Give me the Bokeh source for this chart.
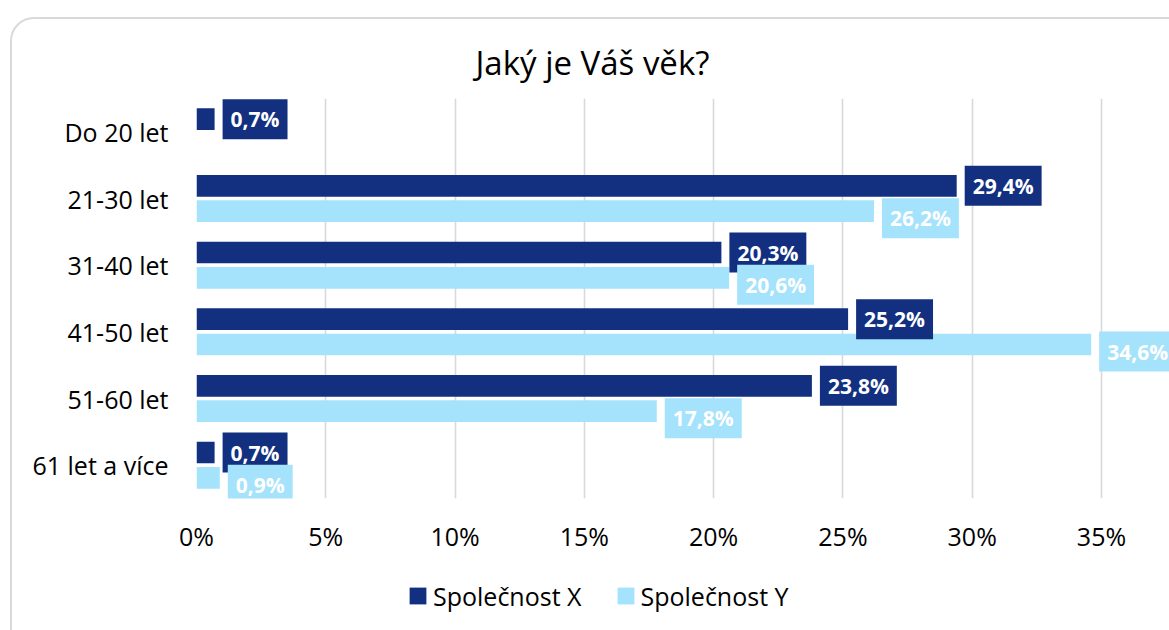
from bokeh.plotting import figure
from bokeh.layouts import column
from bokeh.models import (ColumnDataSource, FixedTicker, PrintfTickFormatter, Legend,
                          LegendItem, Range1d, InlineStyleSheet)
from bokeh.transform import dodge
from bokeh.core.properties import value
from bokeh.embed import file_html
from bokeh.resources import INLINE

# ---- data ----
categories = ["Do 20 let", "21-30 let", "31-40 let", "41-50 let", "51-60 let", "61 let a více"]
series_names = ["Společnost X", "Společnost Y"]
values_x = [0.7, 29.4, 20.3, 25.2, 23.8, 0.7]
values_y = [None, 26.2, 20.6, 34.6, 17.8, 0.9]
x_ticks = [0, 5, 10, 15, 20, 25, 30, 35]
title_text = "Jaký je Váš věk?"

DARK = "#12307F"
LIGHT = "#A5E2FC"
GRID = "#D9D9D9"
FONT = "Open Sans"

W = 1169
H1, H2 = 565, 65
ML, MT = 196, 98          # frame left / top
X35 = 1101                # pixel where 35 % lies
FB = 498                  # frame bottom
MB = H1 - FB

n = len(categories)
ypos = [n - 1 - i for i in range(n)]


def fmt(v):
    return ("%.1f" % v).replace(".", ",") + "%"


x_end = 35.0 * (W - ML) / (X35 - ML)
p = figure(width=W, height=H1, output_backend="svg", toolbar_location=None,
           x_range=Range1d(0, x_end), y_range=Range1d(-0.5, n - 0.5),
           min_border_left=ML, min_border_right=0, min_border_top=MT, min_border_bottom=MB)
p.outline_line_color = None
p.background_fill_alpha = 0
p.border_fill_alpha = 0

# title
p.title.text = title_text
p.title.align = "left"
p.title.offset = 279
p.title.standoff = 28
p.title.text_font = FONT
p.title.text_font_size = "33px"
p.title.text_font_style = "normal"
p.title.text_color = "#000000"

# axes
p.xaxis.ticker = FixedTicker(ticks=x_ticks)
p.xaxis.formatter = PrintfTickFormatter(format="%d%%")
p.yaxis.ticker = FixedTicker(ticks=ypos)
p.yaxis.major_label_overrides = {y: c for y, c in zip(ypos, categories)}
for ax in (p.xaxis, p.yaxis):
    ax.axis_line_color = None
    ax.major_tick_line_color = None
    ax.minor_tick_line_color = None
    ax.major_tick_in = 0
    ax.major_tick_out = 0
    ax.major_label_text_font = FONT
    ax.major_label_text_font_size = "25px"
    ax.major_label_text_color = "#000000"
p.xaxis.major_label_standoff = 20
p.yaxis.major_label_standoff = 28

p.xgrid.grid_line_color = GRID
p.xgrid.grid_line_width = 1.6
p.ygrid.grid_line_color = None

OFF = 0.19
BH = 0.325

vx = [float("nan") if v is None else v for v in values_x]
vy = [float("nan") if v is None else v for v in values_y]
src_x = ColumnDataSource(dict(y=ypos, v=vx))
src_y = ColumnDataSource(dict(y=ypos, v=vy))

p.hbar(y=dodge("y", OFF), left=0, right="v", height=BH, source=src_x,
       fill_color=DARK, line_color=None)
p.hbar(y=dodge("y", -OFF), left=0, right="v", height=BH, source=src_y,
       fill_color=LIGHT, line_color=None)

lab_x = ColumnDataSource(dict(y=[y for y, v in zip(ypos, values_x) if v is not None],
                              v=[v for v in values_x if v is not None],
                              t=[fmt(v) for v in values_x if v is not None]))
lab_y = ColumnDataSource(dict(y=[y for y, v in zip(ypos, values_y) if v is not None],
                              v=[v for v in values_y if v is not None],
                              t=[fmt(v) for v in values_y if v is not None]))

common = dict(text="t", x="v", x_offset=8, text_align="left", text_baseline="middle",
              text_font=value(FONT), text_font_style="bold", text_font_size="21px",
              text_color="white", padding=(8, 6))
p.text(y=dodge("y", OFF), source=lab_x, background_fill_color=DARK, y_offset=0, **common)
p.text(y=dodge("y", -OFF), source=lab_y, background_fill_color=LIGHT, y_offset=7, **common)

# ---- legend strip (its bar renderers lie outside its visible range) ----
q = figure(width=W, height=H2, output_backend="svg", toolbar_location=None,
           x_range=Range1d(0, x_end), y_range=Range1d(100, 101),
           min_border_left=ML, min_border_right=0, min_border_top=0, min_border_bottom=0)
q.axis.visible = False
q.grid.visible = False
q.outline_line_color = None
q.background_fill_alpha = 0
q.border_fill_alpha = 0
lx = q.hbar(y="y", left=0, right="v", height=BH, source=src_x, fill_color=DARK, line_color=None)
ly = q.hbar(y="y", left=0, right="v", height=BH, source=src_y, fill_color=LIGHT, line_color=None)

LEG_H = 36
GL = 21                      # legend glyph box (area glyph is inset by 10 %)
leg_center = 595.5 - H1
legend = Legend(items=[LegendItem(label=series_names[0], renderers=[lx]),
                       LegendItem(label=series_names[1], renderers=[ly])],
                orientation="horizontal",
                location=(407 - ML, H2 - (leg_center + LEG_H / 2.0)),
                glyph_width=GL, glyph_height=GL, label_height=LEG_H, label_standoff=5,
                spacing=33, padding=0, margin=0, border_line_color=None,
                background_fill_alpha=0, label_text_font=FONT,
                label_text_font_size="25px", label_text_color="#000000")
q.add_layout(legend)

frame_css = InlineStyleSheet(css="""
:host { position: relative; overflow: hidden; background: white; }
:host::after {
  content: ""; position: absolute; left: 10px; top: 17px;
  width: 1220px; height: 700px; box-sizing: border-box;
  border: 2px solid #D9D9D9; border-radius: 24px; pointer-events: none; z-index: 5;
}
""")
layout = column(p, q, spacing=0, stylesheets=[frame_css])

open("out.html", "w").write(file_html(layout, INLINE))
